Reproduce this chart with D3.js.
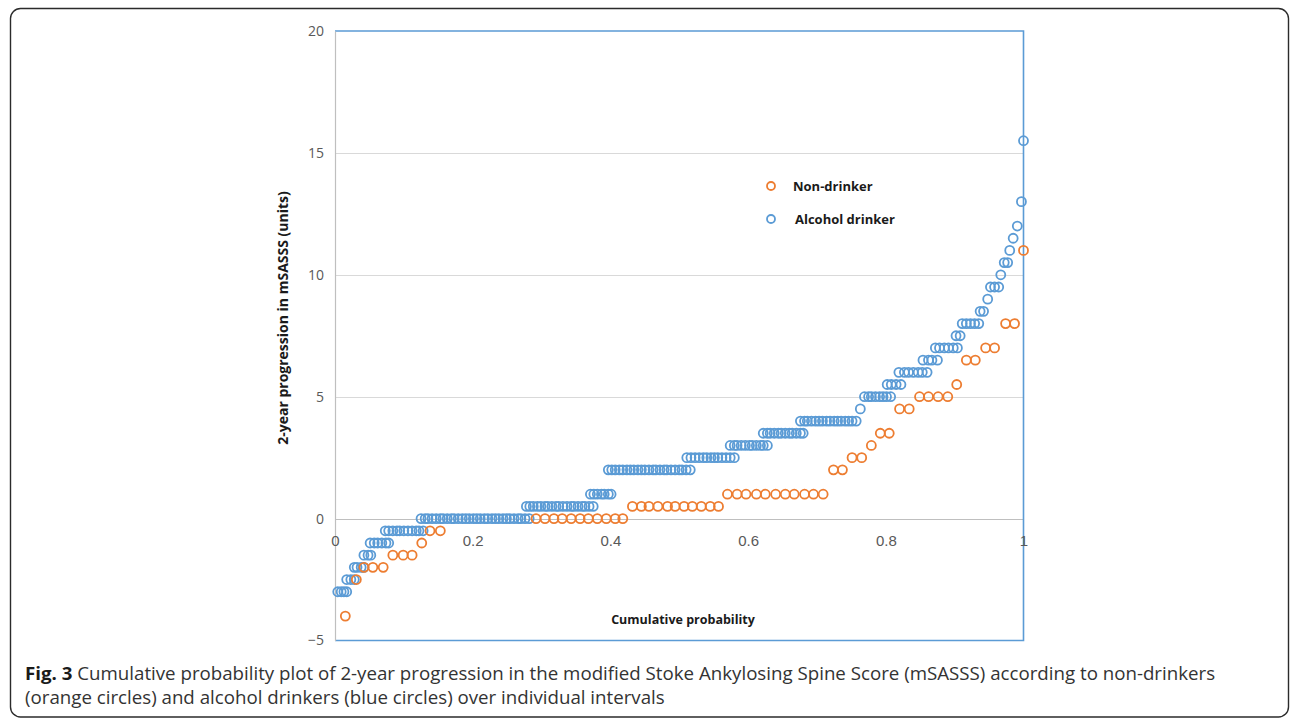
<!DOCTYPE html>
<html>
<head>
<meta charset="utf-8">
<script src="https://cdn.jsdelivr.net/npm/d3@7/dist/d3.min.js"></script>
<style>
  html, body { margin: 0; padding: 0; background: #ffffff; }
  svg { display: block; }
</style>
</head>
<body>
<svg id="chart" width="1292" height="719"></svg>
<script>
// ---- Data: 2-year mSASSS progression vs cumulative probability ----
// Non-drinkers: score levels and the cumulative probabilities of the points at each level
const nonDrinkerLevels = [-4, -2.5, -2, -1.5, -1, -0.5, 0, 0.5, 1, 2, 2.5, 3, 3.5, 4.5, 5, 5.5, 6.5, 7, 8, 11];
const nonDrinkerProbs = [
  [0.015],
  [0.031],
  [0.042, 0.055, 0.070],
  [0.084, 0.099, 0.112],
  [0.126],
  [0.138, 0.153],
  [0.292, 0.305, 0.318, 0.330, 0.343, 0.356, 0.368, 0.381, 0.394, 0.407, 0.418],
  [0.432, 0.445, 0.456, 0.469, 0.483, 0.494, 0.507, 0.519, 0.532, 0.545, 0.557],
  [0.570, 0.584, 0.597, 0.612, 0.625, 0.640, 0.654, 0.667, 0.682, 0.695, 0.709],
  [0.724, 0.737],
  [0.751, 0.765],
  [0.779],
  [0.792, 0.805],
  [0.820, 0.834],
  [0.849, 0.862, 0.876, 0.890],
  [0.903],
  [0.917, 0.930],
  [0.945, 0.958],
  [0.974, 0.987],
  [1.000]
];

// Alcohol drinkers
const drinkerLevels = [-3, -2.5, -2, -1.5, -1, -0.5, 0, 0.5, 1, 2, 2.5, 3, 3.5, 4, 4.5, 5, 5.5, 6, 6.5, 7, 7.5, 8, 8.5, 9, 9.5, 10, 10.5, 11, 11.5, 12, 13, 15.5];
const drinkerProbs = [
  [0.004, 0.009, 0.013, 0.017],
  [0.017, 0.023, 0.028],
  [0.028, 0.032, 0.038, 0.042],
  [0.042, 0.048, 0.052],
  [0.051, 0.057, 0.062, 0.068, 0.074, 0.078],
  [0.073, 0.078, 0.084, 0.090, 0.094, 0.100, 0.106, 0.112, 0.118, 0.122, 0.128],
  [0.125, 0.131, 0.135, 0.141, 0.147, 0.153, 0.157, 0.163, 0.169, 0.173, 0.179, 0.185, 0.190, 0.195, 0.201,
   0.206, 0.211, 0.217, 0.222, 0.228, 0.233, 0.238, 0.244, 0.249, 0.254, 0.260, 0.266, 0.270, 0.276, 0.282],
  [0.278, 0.283, 0.288, 0.294, 0.299, 0.305, 0.309, 0.315, 0.321, 0.325, 0.331, 0.337, 0.343, 0.347, 0.353,
   0.359, 0.363, 0.369, 0.375],
  [0.371, 0.376, 0.381, 0.387, 0.391, 0.397, 0.401],
  [0.397, 0.402, 0.407, 0.413, 0.418, 0.424, 0.429, 0.434, 0.440, 0.445, 0.450, 0.456, 0.462, 0.466, 0.472,
   0.478, 0.482, 0.488, 0.494, 0.500, 0.504, 0.510, 0.516],
  [0.511, 0.517, 0.523, 0.529, 0.535, 0.540, 0.546, 0.551, 0.556, 0.562, 0.568, 0.574, 0.580],
  [0.574, 0.580, 0.584, 0.590, 0.596, 0.602, 0.606, 0.612, 0.618, 0.622, 0.628],
  [0.622, 0.628, 0.632, 0.638, 0.644, 0.648, 0.654, 0.660, 0.664, 0.670, 0.676, 0.680],
  [0.676, 0.682, 0.686, 0.692, 0.698, 0.703, 0.708, 0.714, 0.719, 0.725, 0.730, 0.735, 0.741, 0.746, 0.751, 0.757],
  [0.763],
  [0.769, 0.775, 0.779, 0.785, 0.791, 0.796, 0.801, 0.807],
  [0.802, 0.808, 0.815, 0.822],
  [0.819, 0.827, 0.833, 0.840, 0.847, 0.853, 0.860],
  [0.854, 0.862, 0.867, 0.875],
  [0.872, 0.878, 0.885, 0.891, 0.898, 0.904],
  [0.902, 0.908],
  [0.911, 0.917, 0.923, 0.929, 0.935],
  [0.937, 0.942],
  [0.948],
  [0.952, 0.958, 0.964],
  [0.967],
  [0.972, 0.977],
  [0.980],
  [0.985],
  [0.991],
  [0.997],
  [1.000]
];

const xTicks = [0, 0.2, 0.4, 0.6, 0.8, 1];
const xTickLabels = ["0", "0.2", "0.4", "0.6", "0.8", "1"];
const yTicks = [-5, 0, 5, 10, 15, 20];

const seriesNames = ["Non-drinker", "Alcohol drinker"];
const seriesColors = ["#ED7D31", "#5B9BD5"];

const captionBold = "Fig. 3";
const captionLine1 = " Cumulative probability plot of 2-year progression in the modified Stoke Ankylosing Spine Score (mSASSS) according to non-drinkers";
const captionLine2 = "(orange circles) and alcohol drinkers (blue circles) over individual intervals";

// ---- Build point lists ----
function toPoints(levels, probs) {
  const pts = [];
  levels.forEach((v, i) => probs[i].forEach(p => pts.push({ p: p, v: v })));
  return pts;
}
const nonDrinkerPts = toPoints(nonDrinkerLevels, nonDrinkerProbs);
const drinkerPts = toPoints(drinkerLevels, drinkerProbs);

// ---- Layout ----
const svg = d3.select("#chart");
const plot = { left: 335, right: 1023.5, top: 31, bottom: 640.5 };

const x = d3.scaleLinear().domain([0, 1]).range([plot.left, plot.right]);
const y = d3.scaleLinear().domain([-5, 20]).range([plot.bottom, plot.top]);

// Figure frame with rounded corners
svg.append("rect")
  .attr("x", 10.5).attr("y", 8.5)
  .attr("width", 1278).attr("height", 708.5)
  .attr("rx", 10).attr("ry", 10)
  .attr("fill", "none")
  .attr("stroke", "#2b2b2b")
  .attr("stroke-width", 1.4);

// Horizontal gridlines
svg.append("g")
  .selectAll("line")
  .data(yTicks.filter(t => t !== 20 && t !== -5))
  .join("line")
  .attr("x1", plot.left).attr("x2", plot.right)
  .attr("y1", d => Math.round(y(d)) + 0.5).attr("y2", d => Math.round(y(d)) + 0.5)
  .attr("stroke", d => d === 0 ? "#bfbfbf" : "#d9d9d9")
  .attr("stroke-width", 1);

// Plot-area border (top, right, bottom)
svg.append("path")
  .attr("d", `M${plot.left},${plot.top} H${plot.right} V${plot.bottom} H${plot.left}`)
  .attr("fill", "none")
  .attr("stroke", "#5B9BD5")
  .attr("stroke-width", 1.6);

// Y axis
const yAxis = d3.axisLeft(y).tickValues(yTicks).tickSize(0).tickPadding(11);
const gy = svg.append("g")
  .attr("transform", `translate(${plot.left},0)`)
  .call(yAxis);
gy.select(".domain").attr("stroke", "#bfbfbf").attr("stroke-width", 1.2);
gy.selectAll("text")
  .attr("fill", "#595959")
  .style("font-family", "'Open Sans', sans-serif")
  .style("font-size", "14px");

// X axis: labels sit just below the zero line
const xAxis = d3.axisBottom(x).tickValues(xTicks)
  .tickFormat((d, i) => xTickLabels[i]).tickSize(0).tickPadding(17);
const gx = svg.append("g")
  .attr("transform", `translate(0,${y(0)})`)
  .call(xAxis);
gx.select(".domain").remove();
gx.selectAll("text")
  .attr("fill", "#595959")
  .style("font-family", "'Liberation Sans Narrow', 'Liberation Sans', sans-serif")
  .style("font-size", "15px");

// Axis titles
svg.append("text")
  .attr("transform", `translate(288,318) rotate(-90)`)
  .attr("text-anchor", "middle")
  .attr("fill", "#1a1a1a")
  .style("font-family", "'Open Sans', sans-serif")
  .style("font-weight", "bold")
  .style("font-size", "14px")
  .text("2-year progression in mSASSS (units)");

svg.append("text")
  .attr("x", 683).attr("y", 624)
  .attr("text-anchor", "middle")
  .attr("fill", "#1a1a1a")
  .style("font-family", "'Open Sans', sans-serif")
  .style("font-weight", "bold")
  .style("font-size", "12.5px")
  .text("Cumulative probability");

// Markers
const r = 4.5;
function drawSeries(pts, color) {
  svg.append("g")
    .selectAll("circle")
    .data(pts)
    .join("circle")
    .attr("cx", d => x(d.p))
    .attr("cy", d => y(d.v))
    .attr("r", r)
    .attr("fill", "none")
    .attr("stroke", color)
    .attr("stroke-width", 1.8);
}
drawSeries(drinkerPts, seriesColors[1]);
drawSeries(nonDrinkerPts, seriesColors[0]);

// Legend
const legend = svg.append("g");
const legendRows = [{ cy: 186, tx: 793 }, { cy: 219, tx: 795 }];
seriesNames.forEach((name, i) => {
  legend.append("circle")
    .attr("cx", 771).attr("cy", legendRows[i].cy).attr("r", 4)
    .attr("fill", "none")
    .attr("stroke", seriesColors[i])
    .attr("stroke-width", 1.8);
  legend.append("text")
    .attr("x", legendRows[i].tx).attr("y", legendRows[i].cy + 5)
    .attr("fill", "#1a1a1a")
    .style("font-family", "'Open Sans', sans-serif")
    .style("font-weight", "bold")
    .style("font-size", "13px")
    .text(name);
});

// Caption
const cap = svg.append("g").attr("transform", "translate(25,0)");
const capFont = "'Open Sans', sans-serif";
const line1 = cap.append("text")
  .attr("y", 680)
  .attr("fill", "#333333")
  .style("font-family", capFont)
  .style("font-size", "18px");
line1.append("tspan").style("font-weight", "bold").attr("fill", "#1a1a1a").text(captionBold);
line1.append("tspan").text(captionLine1);
const line2 = cap.append("text")
  .attr("y", 704)
  .attr("fill", "#333333")
  .style("font-family", capFont)
  .style("font-size", "18px")
  .text(captionLine2);

// Narrow the caption horizontally so the first line ends near the right edge of the figure text block
const targetWidth = 1191;
const w1 = line1.node().getComputedTextLength();
const k = targetWidth / w1;
line1.attr("transform", `scale(${k},1)`);
line2.attr("transform", `scale(${k},1)`);
</script>
</body>
</html>
